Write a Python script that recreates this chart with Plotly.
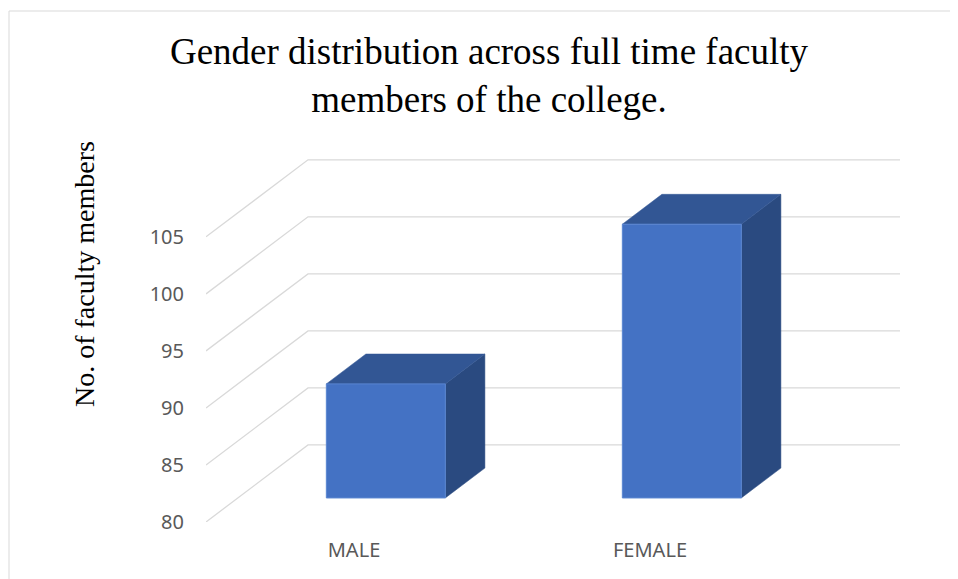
import plotly.graph_objects as go

# ---------------- data ----------------
categories = ["MALE", "FEMALE"]
faculty_counts = [90, 104]
tick_values = [80, 85, 90, 95, 100, 105]
axis_base = 80
title_text = "Gender distribution across full time faculty<br>members of the college."
y_title = "No. of faculty members"

# ---------------- oblique 3D projection / style ----------------
DEPTH_X = 0.3446     # horizontal shift of the full floor depth (category units)
DEPTH_Y = 6.754      # vertical shift of the full floor depth (value units)
BAR_FRONT = 0.312    # depth fraction of the bar's front face
BAR_BACK = 0.70      # depth fraction of the bar's back face
BAR_WIDTH = 0.402

FRONT = "#4472C4"
FRONT_EDGE = "#5A86D2"
TOP = "#325694"
SIDE = "#2A4A80"
GRID = "#D9D9D9"
TICK_COLOR = "#595959"

PAGE_OFFSET = 8  # default body margin of the html page

fig = go.Figure()
n = len(categories)
x_left = -0.5
x_right = n - 0.5

# side wall diagonals + back wall lines
for v in tick_values:
    fig.add_trace(go.Scatter(
        x=[x_left, x_left + DEPTH_X, x_right + DEPTH_X],
        y=[v, v + DEPTH_Y, v + DEPTH_Y],
        mode="lines", line=dict(color=GRID, width=1.3),
        hoverinfo="skip", showlegend=False))

# 3D bars
dx = (BAR_BACK - BAR_FRONT) * DEPTH_X
dy = (BAR_BACK - BAR_FRONT) * DEPTH_Y
for i, (cat, val) in enumerate(zip(categories, faculty_counts)):
    fx = i + BAR_FRONT * DEPTH_X
    fy = BAR_FRONT * DEPTH_Y
    xl, xr = fx - BAR_WIDTH / 2, fx + BAR_WIDTH / 2
    yb, yt = axis_base + fy, val + fy
    # side face
    fig.add_trace(go.Scatter(
        x=[xr, xr + dx, xr + dx, xr, xr], y=[yb, yb + dy, yt + dy, yt, yb],
        mode="lines", fill="toself", fillcolor=SIDE,
        line=dict(color=SIDE, width=0.5), hoverinfo="skip", showlegend=False))
    # top face
    fig.add_trace(go.Scatter(
        x=[xl, xr, xr + dx, xl + dx, xl], y=[yt, yt, yt + dy, yt + dy, yt],
        mode="lines", fill="toself", fillcolor=TOP,
        line=dict(color=TOP, width=0.5), hoverinfo="skip", showlegend=False))
    # front face
    fig.add_trace(go.Scatter(
        x=[xl, xr, xr, xl, xl], y=[yb, yb, yt, yt, yb],
        mode="lines", fill="toself", fillcolor=FRONT,
        line=dict(color=FRONT_EDGE, width=1), name=cat,
        hovertemplate=f"{cat}: {val}<extra></extra>", showlegend=False))

fig.update_layout(
    width=958, height=579,
    margin=dict(l=206 - PAGE_OFFSET, r=58 + PAGE_OFFSET,
                t=157 - PAGE_OFFSET, b=57 + PAGE_OFFSET),
    paper_bgcolor="white", plot_bgcolor="white",
    title=dict(text=title_text, x=(489 - PAGE_OFFSET) / 958, xanchor="center",
               y=1 - 56 / 579, yanchor="middle", yref="container",
               font=dict(family="Liberation Serif", size=37, color="black")),
    xaxis=dict(range=[x_left, x_right + DEPTH_X], tickvals=list(range(n)),
               ticktext=categories, showgrid=False, zeroline=False,
               showline=False, ticks="", ticklabelstandoff=14,
               tickfont=dict(family="Noto Sans", size=20, color=TICK_COLOR)),
    yaxis=dict(range=[axis_base, 112], tickvals=tick_values, showgrid=False,
               zeroline=False, showline=False, ticks="", ticklabelstandoff=21,
               tickfont=dict(family="Noto Sans", size=20, color=TICK_COLOR)),
    annotations=[dict(text=y_title, textangle=-90, xref="paper", yref="paper",
                      x=(84 - 206) / 694, y=(522 - 274) / 365,
                      xanchor="center", yanchor="middle", showarrow=False,
                      font=dict(family="Liberation Serif", size=28, color="black"))],
    shapes=[dict(type="rect", xref="paper", yref="paper",
                 x0=(9 - 206) / 694, x1=(962 - 206) / 694,
                 y0=(522 - 585) / 365, y1=(522 - 11) / 365,
                 line=dict(color=GRID, width=1), layer="below")],
)

fig.write_html("out.html")
